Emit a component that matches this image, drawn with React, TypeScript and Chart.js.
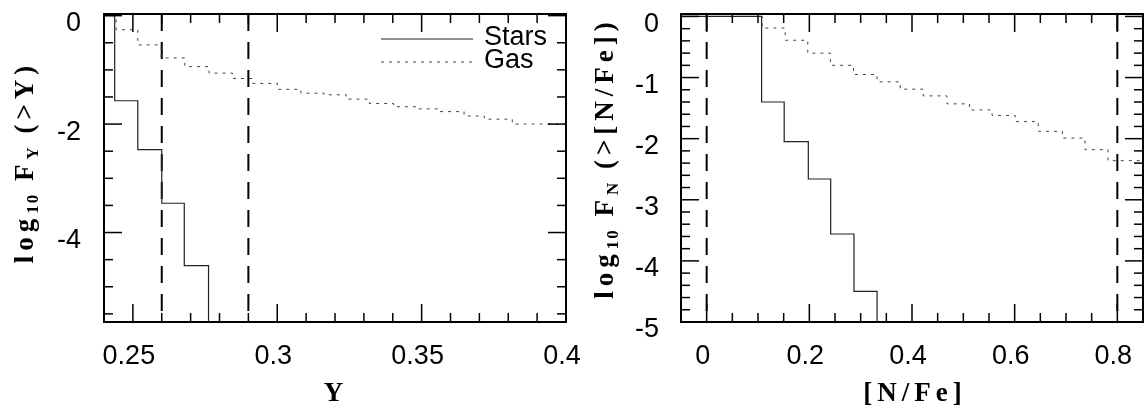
import React, { useEffect, useRef } from 'react';
import { Chart, registerables } from 'chart.js';

Chart.register(...registerables);

// ---------- Data ----------
// Left panel: helium abundance Y
const leftXTicks = [0.25, 0.3, 0.35, 0.4];
const leftYTicks = [0, -2, -4];
const starsYX = [0.24, 0.2437, 0.2517, 0.26, 0.2678, 0.2762];
const starsYLogF = [0, -1.57, -2.47, -3.46, -4.61, -6.5];
const gasYX = [0.24, 0.2442, 0.2517, 0.2598, 0.268, 0.2764, 0.2845, 0.2915, 0.3001, 0.3082, 0.3162, 0.3239, 0.3319, 0.3403, 0.3483, 0.3563, 0.3647, 0.3717, 0.3814, 0.4006];
const gasYLogF = [0, -0.26, -0.54, -0.78, -0.94, -1.06, -1.16, -1.25, -1.36, -1.43, -1.46, -1.54, -1.62, -1.68, -1.72, -1.77, -1.85, -1.91, -2.0, -2.0];
const yCuts = [0.26, 0.29];

// Right panel: nitrogen [N/Fe]
const rightXTicks = [0, 0.2, 0.4, 0.6, 0.8];
const rightYTicks = [0, -1, -2, -3, -4, -5];
const starsNX = [-0.05, 0.107, 0.151, 0.198, 0.2416, 0.287, 0.332];
const starsNLogF = [0, -1.4, -2.05, -2.66, -3.56, -4.5, -5.6];
const gasNX = [-0.05, 0.108, 0.153, 0.197, 0.241, 0.286, 0.332, 0.377, 0.422, 0.468, 0.512, 0.556, 0.601, 0.646, 0.693, 0.737, 0.782, 0.85];
const gasNLogF = [0, -0.19, -0.39, -0.6, -0.8, -0.95, -1.07, -1.19, -1.3, -1.43, -1.53, -1.62, -1.72, -1.88, -1.99, -2.18, -2.36, -2.36];
const nCuts = [0, 0.8];

const legendLabels = ['Stars', 'Gas'];

// ---------- Helpers ----------
type Part = { t: string; sub?: boolean };

const SANS = '"Liberation Sans", Arial, sans-serif';
const SERIF = '"Liberation Serif", "Times New Roman", serif';

function steps(from: number, to: number, step: number, skip: number[]) {
  const out: number[] = [];
  const n = Math.round((to - from) / step);
  for (let i = 0; i <= n; i++) {
    const v = +(from + i * step).toFixed(4);
    if (!skip.some((s) => Math.abs(s - v) < 1e-6)) out.push(v);
  }
  return out;
}

function setPartFont(ctx: CanvasRenderingContext2D, p: Part) {
  ctx.font = `bold ${p.sub ? 17 : 27}px ${SERIF}`;
  (ctx as any).letterSpacing = p.sub ? '2px' : '5px';
}

function measureParts(ctx: CanvasRenderingContext2D, parts: Part[]) {
  let w = 0;
  for (const p of parts) {
    setPartFont(ctx, p);
    w += ctx.measureText(p.t).width;
  }
  return w;
}

function drawParts(ctx: CanvasRenderingContext2D, parts: Part[], x0: number, baseline: number) {
  let x = x0;
  for (const p of parts) {
    setPartFont(ctx, p);
    ctx.fillText(p.t, x, baseline + (p.sub ? 5 : 0));
    x += ctx.measureText(p.t).width;
  }
}

interface Panel {
  xMin: number; xMax: number; yMin: number; yMax: number;
  xTicks: number[]; yTicks: number[];
  xMinor: number[]; yMinor: number[];
  starsX: number[]; starsY: number[];
  gasX: number[]; gasY: number[];
  cuts: number[];
  yAxisWidth: number; rightPad: number; yLabelPad: number;
  xTitle: Part[]; xTitleX: number;
  yTitle: Part[]; yTitleX: number; yTitleY: number;
  legend: boolean;
}

function zeroPad(s: any) {
  s.paddingTop = 0;
  s.paddingBottom = 0;
  s.paddingLeft = 0;
  s.paddingRight = 0;
}

function buildChart(canvas: HTMLCanvasElement, p: Panel) {
  const pts = (xs: number[], ys: number[]) => xs.map((x, i) => ({ x, y: ys[i] }));
  const cutSets = p.cuts.map((c) => ({
    label: 'cut',
    data: [{ x: c, y: p.yMax }, { x: c, y: p.yMin }],
    borderColor: '#000',
    borderWidth: 2,
    borderDash: [17, 11],
    pointRadius: 0,
    fill: false,
  }));

  const decor = {
    id: 'decor',
    afterDatasetsDraw(chart: any) {
      const { ctx, chartArea: a } = chart;
      const xs = chart.scales.x;
      const ys = chart.scales.y;
      ctx.save();
      ctx.strokeStyle = '#000';
      ctx.fillStyle = '#000';
      const line = (x1: number, y1: number, x2: number, y2: number) => {
        ctx.beginPath();
        ctx.moveTo(x1, y1);
        ctx.lineTo(x2, y2);
        ctx.stroke();
      };
      ctx.lineWidth = 1.5;
      const tx = (v: number, len: number) => {
        const px = xs.getPixelForValue(v);
        line(px, a.bottom, px, a.bottom - len);
        line(px, a.top, px, a.top + len);
      };
      const ty = (v: number, len: number) => {
        const py = ys.getPixelForValue(v);
        line(a.left, py, a.left + len, py);
        line(a.right, py, a.right - len, py);
      };
      p.xTicks.forEach((v) => tx(v, 18));
      p.xMinor.forEach((v) => tx(v, 9));
      p.yTicks.forEach((v) => ty(v, 18));
      p.yMinor.forEach((v) => ty(v, 9));

      ctx.lineWidth = 2;
      ctx.strokeRect(a.left, a.top, a.right - a.left, a.bottom - a.top);

      if (p.legend) {
        ctx.lineWidth = 1.2;
        ctx.strokeStyle = '#222';
        ctx.setLineDash([]);
        line(381, 39, 473, 39);
        ctx.strokeStyle = '#444';
        ctx.lineWidth = 1;
        ctx.setLineDash([3, 5]);
        line(381, 62, 473, 62);
        ctx.setLineDash([]);
        ctx.font = `27px ${SANS}`;
        (ctx as any).letterSpacing = '0px';
        ctx.textAlign = 'left';
        ctx.textBaseline = 'alphabetic';
        ctx.fillText(legendLabels[0], 484, 45);
        ctx.fillText(legendLabels[1], 484, 68);
      }

      // x title
      ctx.textAlign = 'left';
      ctx.textBaseline = 'alphabetic';
      const wx = measureParts(ctx, p.xTitle);
      drawParts(ctx, p.xTitle, p.xTitleX - wx / 2, 401);

      // y title (rotated)
      ctx.translate(p.yTitleX, p.yTitleY);
      ctx.rotate(-Math.PI / 2);
      const wy = measureParts(ctx, p.yTitle);
      drawParts(ctx, p.yTitle, -wy / 2, 0);
      ctx.restore();
    },
  };

  return new Chart(canvas, {
    type: 'line',
    data: {
      datasets: [
        {
          label: legendLabels[0],
          data: pts(p.starsX, p.starsY),
          stepped: 'before',
          borderColor: '#222',
          borderWidth: 1.2,
          pointRadius: 0,
          fill: false,
        },
        {
          label: legendLabels[1],
          data: pts(p.gasX, p.gasY),
          stepped: 'before',
          borderColor: '#444',
          borderWidth: 1,
          borderDash: [3, 5],
          pointRadius: 0,
          fill: false,
        },
        ...cutSets,
      ] as any,
    },
    options: {
      responsive: false,
      animation: false,
      devicePixelRatio: 1,
      events: [],
      layout: { padding: { left: 0, top: 14, right: p.rightPad, bottom: 0 } },
      plugins: { legend: { display: false }, tooltip: { enabled: false } },
      scales: {
        x: {
          type: 'linear',
          min: p.xMin,
          max: p.xMax,
          afterFit: (s: any) => { s.height = 94; zeroPad(s); },
          afterBuildTicks: (s: any) => { s.ticks = p.xTicks.map((v) => ({ value: v })); },
          grid: { display: false, drawTicks: false },
          border: { display: false },
          ticks: {
            autoSkip: false,
            maxRotation: 0,
            minRotation: 0,
            padding: 18,
            labelOffset: -4,
            color: '#000',
            font: { family: SANS, size: 27 },
            callback: (v: any) => String(v),
          },
        },
        y: {
          type: 'linear',
          min: p.yMin,
          max: p.yMax,
          afterFit: (s: any) => { s.width = p.yAxisWidth; zeroPad(s); },
          afterBuildTicks: (s: any) => { s.ticks = p.yTicks.map((v) => ({ value: v })); },
          grid: { display: false, drawTicks: false },
          border: { display: false },
          ticks: {
            autoSkip: false,
            padding: p.yLabelPad,
            labelOffset: 8,
            color: '#000',
            font: { family: SANS, size: 27 },
            callback: (v: any) => String(v),
          },
        },
      },
    } as any,
    plugins: [decor],
  });
}

const LEFT_W = 600;
const RIGHT_W = 573;

const leftPanel: Panel = {
  xMin: 0.24, xMax: 0.4, yMin: -5.65, yMax: 0.03,
  xTicks: leftXTicks, yTicks: leftYTicks,
  xMinor: steps(0.25, 0.4, 0.01, leftXTicks),
  yMinor: steps(-5.5, 0, 0.5, leftYTicks),
  starsX: starsYX, starsY: starsYLogF,
  gasX: gasYX, gasY: gasYLogF,
  cuts: yCuts,
  yAxisWidth: 104, rightPad: LEFT_W - 566, yLabelPad: 23,
  xTitle: [{ t: 'Y' }], xTitleX: 336,
  yTitle: [{ t: 'log' }, { t: '10', sub: true }, { t: ' ' }, { t: 'F' }, { t: 'Y', sub: true }, { t: ' ' }, { t: '(>Y)' }],
  yTitleX: 33, yTitleY: 162,
  legend: true,
};

const rightPanel: Panel = {
  xMin: -0.05, xMax: 0.85, yMin: -5, yMax: 0.04,
  xTicks: rightXTicks, yTicks: rightYTicks,
  xMinor: steps(0, 0.85, 0.05, rightXTicks),
  yMinor: steps(-5, 0, 0.2, rightYTicks),
  starsX: starsNX, starsY: starsNLogF,
  gasX: gasNX, gasY: gasNLogF,
  cuts: nCuts,
  yAxisWidth: 108, rightPad: RIGHT_W - 570, yLabelPad: 22,
  xTitle: [{ t: '[N/Fe]' }], xTitleX: 342,
  yTitle: [{ t: 'log' }, { t: '10', sub: true }, { t: ' ' }, { t: 'F' }, { t: 'N', sub: true }, { t: ' ' }, { t: '(>[N/Fe])' }],
  yTitleX: 40, yTitleY: 158,
  legend: false,
};

export default function App() {
  const leftRef = useRef<HTMLCanvasElement>(null);
  const rightRef = useRef<HTMLCanvasElement>(null);

  useEffect(() => {
    const charts: Chart[] = [];
    if (leftRef.current) charts.push(buildChart(leftRef.current, leftPanel));
    if (rightRef.current) charts.push(buildChart(rightRef.current, rightPanel));
    return () => charts.forEach((c) => c.destroy());
  }, []);

  return (
    <div style={{ position: 'fixed', left: 0, top: 0, width: 1146, height: 416, background: '#fff' }}>
      <canvas ref={leftRef} width={LEFT_W} height={416} style={{ position: 'absolute', left: 0, top: 0, width: LEFT_W, height: 416 }} />
      <canvas ref={rightRef} width={RIGHT_W} height={416} style={{ position: 'absolute', left: 573, top: 0, width: RIGHT_W, height: 416 }} />
    </div>
  );
}
